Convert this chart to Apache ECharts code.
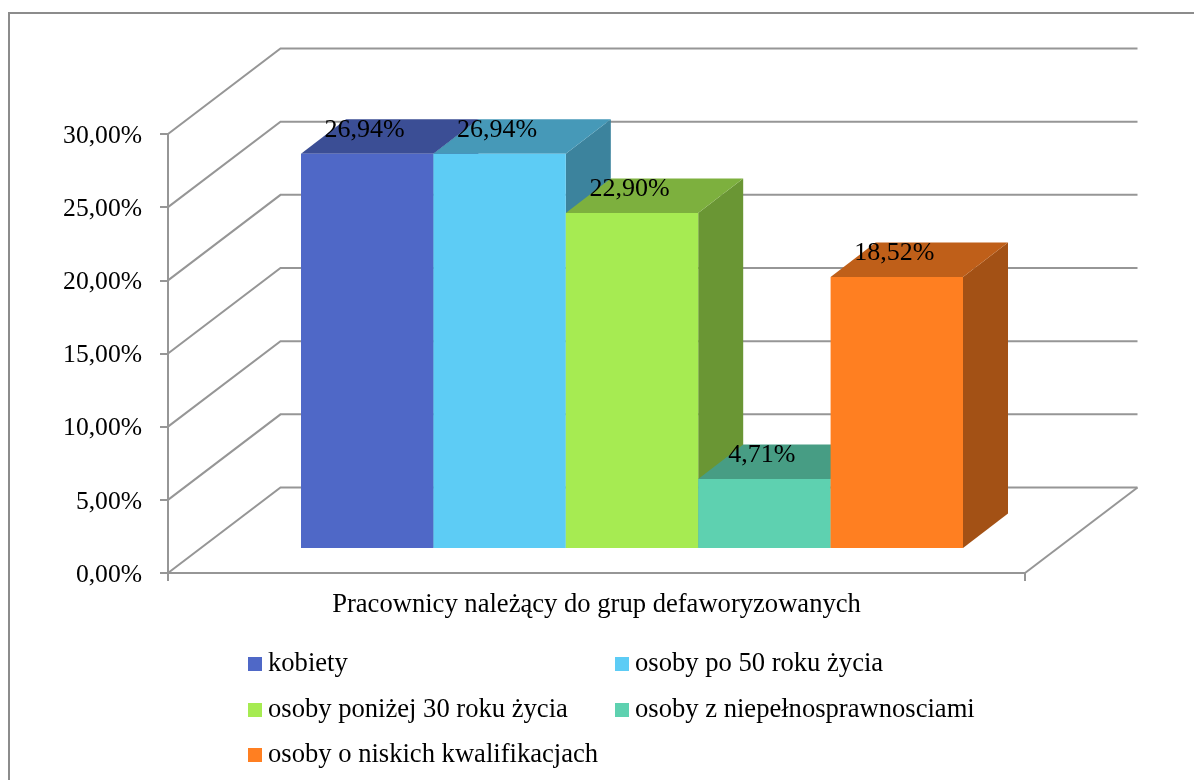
<!DOCTYPE html>
<html>
<head>
<meta charset="utf-8">
<style>html,body{margin:0;padding:0;background:#fff}#chart{width:1194px;height:780px}</style>
<script src="https://cdn.jsdelivr.net/npm/echarts@6/dist/echarts.min.js"></script>
</head>
<body>
<div id="chart"></div>
<script>
const categories = ['Pracownicy należący do grup defaworyzowanych'];
const seriesNames = ['kobiety', 'osoby po 50 roku życia', 'osoby poniżej 30 roku życia', 'osoby z niepełnosprawnosciami', 'osoby o niskich kwalifikacjach'];
const seriesValues = [26.94, 26.94, 22.90, 4.71, 18.52];
const seriesColors = ['#4f68c7', '#5dccf5', '#a6eb52', '#5ed1b0', '#ff7f21'];
const wallTicks = [0, 5, 10, 15, 20, 25, 30];

// Oblique projection used for the box look
const WALL_DX = 112.5, WALL_DY = -85.5;   // front plane to back wall
const BAR_DX = 45, BAR_DY = -34.5;        // depth of one column
const ROW_DY = -25;                       // columns stand this far behind the front plane
const BAR_W = 132.4, BAR_GAP = 133;       // column width, gap before the first column
const FONT = '"Liberation Serif", "Times New Roman", serif';
const TICK_SIZE = 25.6, VALUE_SIZE = 26, TEXT_SIZE = 26.6;
const LINE = '#969696';

// Legend slots: column x and row y of each entry
const legendSlots = [[248, 662], [615, 662], [248, 708], [615, 708], [248, 753]];

function shade(hex, f) {
  const n = parseInt(hex.slice(1), 16);
  const ch = s => Math.round(((n >> s) & 255) * f);
  return `rgb(${ch(16)},${ch(8)},${ch(0)})`;
}

function renderWallLine(params, api) {
  const p = api.coord([0, api.value(1)]);
  const right = p[0] + api.size([1, 0])[0] / 2;
  const left = p[0] - api.size([1, 0])[0] / 2;
  const style = { stroke: LINE, lineWidth: 2, fill: null };
  const children = [{
    type: 'polyline',
    shape: { points: [[left, p[1]], [left + WALL_DX, p[1] + WALL_DY], [right + WALL_DX, p[1] + WALL_DY]] },
    style
  }];
  if (api.value(1) === 0) {
    children.push({
      type: 'polyline',
      shape: { points: [[right, p[1]], [right + WALL_DX, p[1] + WALL_DY]] },
      style
    });
  }
  return { type: 'group', children };
}

function makeBarRenderer(index) {
  return function (params, api) {
    const value = api.value(1);
    const band = api.size([1, 0])[0];
    const cx = api.coord([0, 0])[0];
    const x0 = cx - band / 2 + BAR_GAP + index * BAR_W;
    const x1 = x0 + BAR_W;
    const yBase = api.coord([0, 0])[1] + ROW_DY;
    const yTop = api.coord([0, value])[1] + ROW_DY;
    const color = seriesColors[index];
    return {
      type: 'group',
      children: [
        { type: 'polygon', shape: { points: [[x1, yTop], [x1 + BAR_DX, yTop + BAR_DY], [x1 + BAR_DX, yBase + BAR_DY], [x1, yBase]] }, style: { fill: shade(color, 0.64) } },
        { type: 'polygon', shape: { points: [[x0, yTop], [x0 + BAR_DX, yTop + BAR_DY], [x1 + BAR_DX, yTop + BAR_DY], [x1, yTop]] }, style: { fill: shade(color, 0.75) } },
        { type: 'rect', shape: { x: x0, y: yTop, width: BAR_W, height: yBase - yTop }, style: { fill: color } },
        {
          type: 'text', z2: 50,
          style: {
            x: (x0 + x1) / 2 - 2.5, y: yTop + ROW_DY + 1.5,
            text: value.toFixed(2).replace('.', ',') + '%',
            font: VALUE_SIZE + 'px ' + FONT, fill: '#000', align: 'center', verticalAlign: 'middle'
          }
        }
      ]
    };
  };
}

const chart = echarts.init(document.getElementById('chart'), null, { renderer: 'canvas' });

chart.setOption({
  animation: false,
  backgroundColor: '#fff',
  graphic: [{
    type: 'polyline', silent: true,
    shape: { points: [[9, 780], [9, 13], [1194, 13]] },
    style: { stroke: '#8c8c8c', lineWidth: 2, fill: null }
  }],
  grid: { left: 168, right: 169, top: 134, bottom: 207 },
  xAxis: {
    type: 'category',
    data: categories,
    axisLine: { show: true, lineStyle: { color: LINE, width: 2 } },
    axisTick: { show: true, length: 8, lineStyle: { color: LINE, width: 2 } },
    axisLabel: { margin: 19, color: '#000', fontFamily: FONT, fontSize: TEXT_SIZE }
  },
  yAxis: {
    type: 'value', min: 0, max: 30, interval: 5,
    splitLine: { show: false },
    axisLine: { show: true, lineStyle: { color: LINE, width: 2 } },
    axisTick: { show: true, length: 8, lineStyle: { color: LINE, width: 2 } },
    axisLabel: {
      margin: 26, color: '#000', fontFamily: FONT, fontSize: TICK_SIZE,
      verticalAlign: 'top', lineHeight: 4,
      formatter: v => v.toFixed(2).replace('.', ',') + '%'
    }
  },
  legend: seriesNames.map((name, i) => ({
    data: [name],
    left: legendSlots[i][0],
    top: legendSlots[i][1] - 15,
    padding: 0,
    icon: 'rect',
    itemWidth: 14,
    itemHeight: 14,
    itemGap: 0,
    selectedMode: false,
    textStyle: { color: '#000', fontFamily: FONT, fontSize: TEXT_SIZE, padding: [4, 0, 0, 1], lineHeight: 30 }
  })),
  series: [
    {
      type: 'custom', name: 'siatka', silent: true, z: 1, clip: false,
      renderItem: renderWallLine,
      encode: { x: 0, y: 1 },
      data: wallTicks.map(t => [0, t])
    }
  ].concat(seriesNames.map((name, i) => ({
    type: 'custom', name, silent: true, z: 2 + i, clip: false,
    itemStyle: { color: seriesColors[i] },
    renderItem: makeBarRenderer(i),
    encode: { x: 0, y: 1 },
    data: [[0, seriesValues[i]]]
  })))
});
</script>
</body>
</html>
